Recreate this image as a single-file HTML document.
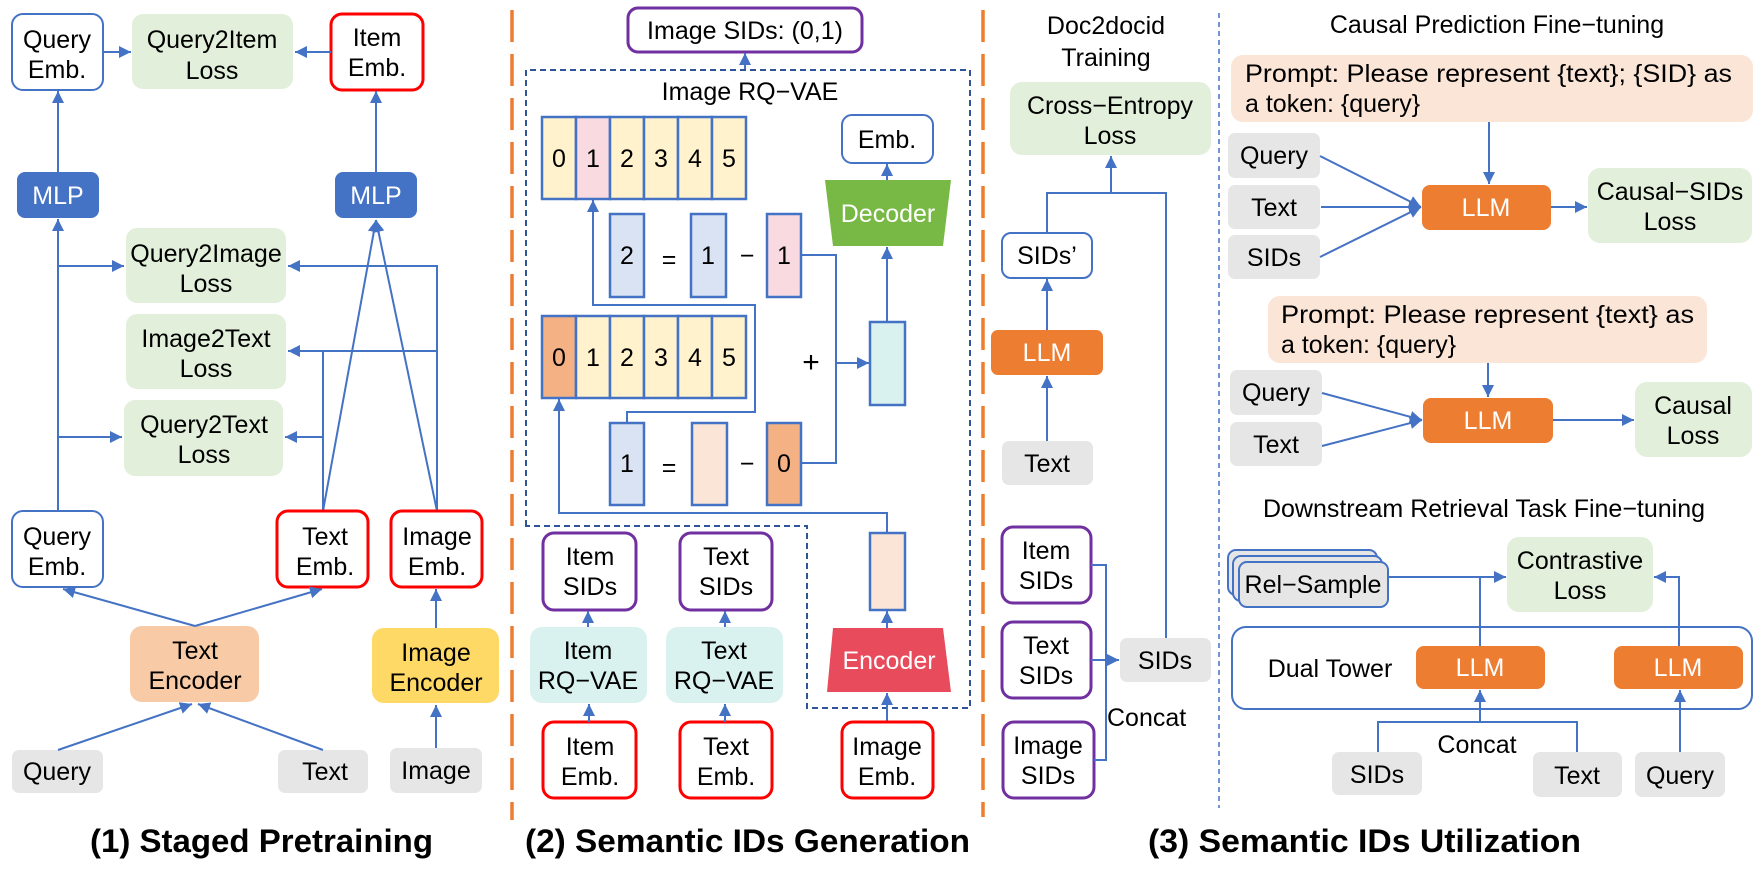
<!DOCTYPE html>
<html><head><meta charset="utf-8"><style>
html,body{margin:0;padding:0;background:#fff;}
svg{display:block;}
text{font-family:"Liberation Sans",sans-serif;fill:#000;}
.t{font-size:25px;text-anchor:middle;}
.w{fill:#fff;}
.b{font-weight:bold;font-size:32px;}
.l{stroke:#4472C4;stroke-width:2;fill:none;}
.la{stroke:#4472C4;stroke-width:2;fill:none;marker-end:url(#ah);}
.cell{stroke:#4472C4;stroke-width:2.5;}
</style></head><body>
<svg width="1762" height="878" viewBox="0 0 1762 878" xmlns="http://www.w3.org/2000/svg">
<defs>
<marker id="ah" markerUnits="userSpaceOnUse" markerWidth="14" markerHeight="14" refX="12" refY="6" orient="auto">
<path d="M0,0 L12,6 L0,12 z" fill="#4472C4"/>
</marker>
</defs>

<!-- ============ SECTION 1 ============ -->
<rect x="12" y="14" width="91" height="76" rx="11" fill="#fff" stroke="#4472C4" stroke-width="2"/>
<text class="t" x="57" y="48">Query</text><text class="t" x="57" y="78">Emb.</text>
<rect x="132" y="14" width="161" height="75" rx="11" fill="#e2efda"/>
<text class="t" x="212" y="48">Query2Item</text><text class="t" x="212" y="79">Loss</text>
<rect x="331" y="14" width="92" height="76" rx="11" fill="#fff" stroke="#ff0000" stroke-width="3"/>
<text class="t" x="377" y="46">Item</text><text class="t" x="377" y="76">Emb.</text>
<line class="la" x1="103" y1="52" x2="131" y2="52"/>
<line class="la" x1="331" y1="52" x2="295" y2="52"/>

<rect x="17" y="172" width="82" height="46" rx="8" fill="#4472C4"/>
<text class="t w" x="58" y="204">MLP</text>
<rect x="335" y="172" width="82" height="46" rx="8" fill="#4472C4"/>
<text class="t w" x="376" y="204">MLP</text>
<line class="la" x1="58" y1="172" x2="58" y2="91"/>
<line class="la" x1="376" y1="172" x2="376" y2="91"/>

<rect x="126" y="228" width="160" height="75" rx="11" fill="#e2efda"/>
<text class="t" x="206" y="262">Query2Image</text><text class="t" x="206" y="292">Loss</text>
<rect x="126" y="314" width="160" height="75" rx="11" fill="#e2efda"/>
<text class="t" x="206" y="347">Image2Text</text><text class="t" x="206" y="377">Loss</text>
<rect x="124" y="400" width="159" height="76" rx="11" fill="#e2efda"/>
<text class="t" x="204" y="433">Query2Text</text><text class="t" x="204" y="463">Loss</text>

<line class="la" x1="58" y1="511" x2="58" y2="219"/>
<line class="la" x1="58" y1="266" x2="124" y2="266"/>
<line class="la" x1="58" y1="437" x2="122" y2="437"/>
<polyline class="la" points="437,511 437,266 288,266"/>
<line class="la" x1="437" y1="351" x2="288" y2="351"/>
<line class="l" x1="323" y1="511" x2="323" y2="351"/>
<line class="la" x1="323" y1="437" x2="285" y2="437"/>
<line class="la" x1="323" y1="511" x2="376" y2="220"/>
<line class="la" x1="437" y1="511" x2="376" y2="220"/>

<rect x="12" y="511" width="91" height="76" rx="11" fill="#fff" stroke="#4472C4" stroke-width="2"/>
<text class="t" x="57" y="545">Query</text><text class="t" x="57" y="575">Emb.</text>
<rect x="277" y="511" width="91" height="76" rx="11" fill="#fff" stroke="#ff0000" stroke-width="3"/>
<text class="t" x="325" y="545">Text</text><text class="t" x="325" y="575">Emb.</text>
<rect x="391" y="511" width="91" height="76" rx="11" fill="#fff" stroke="#ff0000" stroke-width="3"/>
<text class="t" x="437" y="545">Image</text><text class="t" x="437" y="575">Emb.</text>

<rect x="130" y="626" width="129" height="76" rx="12" fill="#f8cba6"/>
<text class="t" x="195" y="659">Text</text><text class="t" x="195" y="689">Encoder</text>
<rect x="372" y="628" width="127" height="75" rx="12" fill="#ffd966"/>
<text class="t" x="436" y="661">Image</text><text class="t" x="436" y="691">Encoder</text>
<line class="la" x1="195" y1="626" x2="63" y2="589"/>
<line class="la" x1="195" y1="626" x2="322" y2="589"/>
<line class="la" x1="436" y1="628" x2="436" y2="589"/>

<rect x="12" y="750" width="91" height="43" rx="7" fill="#e6e6e6"/>
<text class="t" x="57" y="780">Query</text>
<rect x="278" y="750" width="90" height="43" rx="7" fill="#e6e6e6"/>
<text class="t" x="325" y="780">Text</text>
<rect x="390" y="748" width="92" height="45" rx="7" fill="#e6e6e6"/>
<text class="t" x="436" y="779">Image</text>
<line class="la" x1="58" y1="750" x2="192" y2="704"/>
<line class="la" x1="323" y1="750" x2="198" y2="704"/>
<line class="la" x1="436" y1="748" x2="436" y2="705"/>

<text class="b" x="90" y="852" textLength="343" lengthAdjust="spacingAndGlyphs">(1) Staged Pretraining</text>

<!-- divider 1 -->
<line x1="512" y1="10" x2="512" y2="820" stroke="#ed7d31" stroke-width="3.5" stroke-dasharray="32,12"/>

<!-- ============ SECTION 2 ============ -->
<rect x="628" y="8" width="234" height="44" rx="10" fill="#fff" stroke="#7030a0" stroke-width="3"/>
<text class="t" x="745" y="39">Image SIDs: (0,1)</text>
<line class="la" x1="745" y1="70" x2="745" y2="53"/>
<path d="M526,526 L526,70 L970,70 L970,708 L807,708 L807,526 Z" fill="none" stroke="#2f5597" stroke-width="2" stroke-dasharray="6,4"/>
<text class="t" x="750" y="100">Image RQ−VAE</text>

<!-- codebook row 1 -->
<g class="cell">
<rect x="542" y="117" width="34" height="82" fill="#fff2cc"/>
<rect x="576" y="117" width="34" height="82" fill="#f8dae0"/>
<rect x="610" y="117" width="34" height="82" fill="#fff2cc"/>
<rect x="644" y="117" width="34" height="82" fill="#fff2cc"/>
<rect x="678" y="117" width="34" height="82" fill="#fff2cc"/>
<rect x="712" y="117" width="34" height="82" fill="#fff2cc"/>
</g>
<g class="t"><text class="t" x="559" y="167">0</text><text class="t" x="593" y="167">1</text><text class="t" x="627" y="167">2</text><text class="t" x="661" y="167">3</text><text class="t" x="695" y="167">4</text><text class="t" x="729" y="167">5</text></g>

<!-- residual row 1 -->
<rect class="cell" x="610" y="214" width="34" height="83" fill="#dae3f3"/>
<text class="t" x="627" y="264">2</text>
<text class="t" x="669" y="268">=</text>
<rect class="cell" x="691" y="214" width="35" height="83" fill="#dae3f3"/>
<text class="t" x="708" y="264">1</text>
<text class="t" x="747" y="264">−</text>
<rect class="cell" x="767" y="214" width="34" height="83" fill="#f8dae0"/>
<text class="t" x="784" y="264">1</text>

<!-- codebook row 2 -->
<g class="cell">
<rect x="542" y="316" width="34" height="82" fill="#f4b183"/>
<rect x="576" y="316" width="34" height="82" fill="#fff2cc"/>
<rect x="610" y="316" width="34" height="82" fill="#fff2cc"/>
<rect x="644" y="316" width="34" height="82" fill="#fff2cc"/>
<rect x="678" y="316" width="34" height="82" fill="#fff2cc"/>
<rect x="712" y="316" width="34" height="82" fill="#fff2cc"/>
</g>
<text class="t" x="559" y="366">0</text><text class="t" x="593" y="366">1</text><text class="t" x="627" y="366">2</text><text class="t" x="661" y="366">3</text><text class="t" x="695" y="366">4</text><text class="t" x="729" y="366">5</text>
<text class="t" x="811" y="372" style="font-size:30px">+</text>

<!-- residual row 2 -->
<rect class="cell" x="610" y="423" width="34" height="82" fill="#dae3f3"/>
<text class="t" x="627" y="472">1</text>
<text class="t" x="669" y="476">=</text>
<rect class="cell" x="692" y="423" width="35" height="82" fill="#fbe5d6"/>
<text class="t" x="747" y="472">−</text>
<rect class="cell" x="767" y="423" width="34" height="82" fill="#f4b183"/>
<text class="t" x="784" y="472">0</text>

<!-- connectors sec 2 -->
<polyline class="la" points="627,423 627,412 755,412 755,305 593,305 593,200"/>
<polyline class="la" points="887,533 887,513 559,513 559,399"/>
<polyline class="l" points="801,255 836,255 836,463 801,463"/>
<line class="la" x1="836" y1="363" x2="869" y2="363"/>

<rect x="870" y="322" width="35" height="83" fill="#d9f2ef" stroke="#4472C4" stroke-width="2.5"/>
<line class="la" x1="887" y1="322" x2="887" y2="247"/>
<polygon points="825,180 951,180 943,246 833,246" fill="#77b944"/>
<text class="t w" x="888" y="222">Decoder</text>
<line class="la" x1="887" y1="180" x2="887" y2="164"/>
<rect x="842" y="115" width="91" height="48" rx="10" fill="#fff" stroke="#4472C4" stroke-width="2"/>
<text class="t" x="887" y="148">Emb.</text>

<rect x="870" y="533" width="35" height="77" fill="#fbe5d6" stroke="#4472C4" stroke-width="2.5"/>
<line class="la" x1="887" y1="628" x2="887" y2="611"/>
<polygon points="833,628 943,628 951,692 827,692" fill="#e84c5c"/>
<text class="t w" x="889" y="669">Encoder</text>
<line class="la" x1="887" y1="722" x2="887" y2="693"/>
<rect x="842" y="722" width="91" height="76" rx="11" fill="#fff" stroke="#ff0000" stroke-width="3"/>
<text class="t" x="887" y="755">Image</text><text class="t" x="887" y="785">Emb.</text>

<rect x="543" y="533" width="93" height="77" rx="11" fill="#fff" stroke="#7030a0" stroke-width="3"/>
<text class="t" x="590" y="565">Item</text><text class="t" x="590" y="595">SIDs</text>
<rect x="680" y="533" width="92" height="77" rx="11" fill="#fff" stroke="#7030a0" stroke-width="3"/>
<text class="t" x="726" y="565">Text</text><text class="t" x="726" y="595">SIDs</text>
<rect x="530" y="627" width="117" height="76" rx="12" fill="#d9f2ef"/>
<text class="t" x="588" y="659">Item</text><text class="t" x="588" y="689">RQ−VAE</text>
<rect x="666" y="627" width="117" height="76" rx="12" fill="#d9f2ef"/>
<text class="t" x="724" y="659">Text</text><text class="t" x="724" y="689">RQ−VAE</text>
<rect x="543" y="722" width="93" height="76" rx="11" fill="#fff" stroke="#ff0000" stroke-width="3"/>
<text class="t" x="590" y="755">Item</text><text class="t" x="590" y="785">Emb.</text>
<rect x="680" y="722" width="92" height="76" rx="11" fill="#fff" stroke="#ff0000" stroke-width="3"/>
<text class="t" x="726" y="755">Text</text><text class="t" x="726" y="785">Emb.</text>
<line class="la" x1="589" y1="722" x2="589" y2="704"/>
<line class="la" x1="588" y1="627" x2="588" y2="611"/>
<line class="la" x1="725" y1="722" x2="725" y2="704"/>
<line class="la" x1="725" y1="627" x2="725" y2="611"/>

<text class="b" x="525" y="852" textLength="445" lengthAdjust="spacingAndGlyphs">(2) Semantic IDs Generation</text>

<!-- divider 2 -->
<line x1="983" y1="10" x2="983" y2="817" stroke="#ed7d31" stroke-width="3.5" stroke-dasharray="32,12"/>
<line x1="1219" y1="13" x2="1219" y2="808" stroke="#4472C4" stroke-width="1.5" stroke-dasharray="5,4"/>

<!-- ============ SECTION 3 ============ -->
<text class="t" x="1106" y="34">Doc2docid</text>
<text class="t" x="1106" y="66">Training</text>
<rect x="1010" y="82" width="201" height="73" rx="12" fill="#e2efda"/>
<text class="t" x="1110" y="114">Cross−Entropy</text><text class="t" x="1110" y="144">Loss</text>
<polyline class="l" points="1047,233 1047,193 1166,193 1166,638"/>
<line class="la" x1="1111" y1="193" x2="1111" y2="156"/>
<rect x="1002" y="233" width="90" height="45" rx="9" fill="#fff" stroke="#4472C4" stroke-width="2"/>
<text class="t" x="1047" y="264">SIDs’</text>
<line class="la" x1="1047" y1="330" x2="1047" y2="279"/>
<rect x="991" y="330" width="112" height="45" rx="7" fill="#ed7d31"/>
<text class="t w" x="1047" y="361">LLM</text>
<line class="la" x1="1047" y1="441" x2="1047" y2="376"/>
<rect x="1002" y="441" width="91" height="44" rx="7" fill="#e6e6e6"/>
<text class="t" x="1047" y="472">Text</text>

<rect x="1002" y="527" width="89" height="76" rx="11" fill="#fff" stroke="#7030a0" stroke-width="3"/>
<text class="t" x="1046" y="559">Item</text><text class="t" x="1046" y="589">SIDs</text>
<rect x="1002" y="622" width="89" height="76" rx="11" fill="#fff" stroke="#7030a0" stroke-width="3"/>
<text class="t" x="1046" y="654">Text</text><text class="t" x="1046" y="684">SIDs</text>
<rect x="1003" y="722" width="91" height="76" rx="11" fill="#fff" stroke="#7030a0" stroke-width="3"/>
<text class="t" x="1048" y="754">Image</text><text class="t" x="1048" y="784">SIDs</text>
<polyline class="l" points="1091,565 1106,565 1106,760 1094,760"/>
<line class="l" x1="1091" y1="660" x2="1106" y2="660"/>
<line class="la" x1="1106" y1="660" x2="1119" y2="660"/>
<rect x="1120" y="638" width="91" height="44" rx="7" fill="#e6e6e6"/>
<text class="t" x="1165" y="669">SIDs</text>
<text class="t" x="1151" y="726" style="text-anchor:start" transform="translate(-44,0)">Concat</text>

<!-- causal prediction -->
<text class="t" x="1497" y="33">Causal Prediction Fine−tuning</text>
<rect x="1231" y="55" width="522" height="67" rx="12" fill="#fbe5d6"/>
<text x="1245" y="82" style="font-size:25px" textLength="487" lengthAdjust="spacingAndGlyphs">Prompt: Please represent {text}; {SID} as</text>
<text x="1245" y="112" style="font-size:25px">a token: {query}</text>
<line class="la" x1="1489" y1="122" x2="1489" y2="184"/>
<rect x="1228" y="133" width="92" height="45" rx="7" fill="#e6e6e6"/>
<text class="t" x="1274" y="164">Query</text>
<rect x="1228" y="185" width="92" height="44" rx="7" fill="#e6e6e6"/>
<text class="t" x="1274" y="216">Text</text>
<rect x="1228" y="235" width="92" height="44" rx="7" fill="#e6e6e6"/>
<text class="t" x="1274" y="266">SIDs</text>
<line class="la" x1="1320" y1="156" x2="1421" y2="207"/>
<line class="la" x1="1321" y1="207" x2="1421" y2="207"/>
<line class="la" x1="1320" y1="257" x2="1421" y2="207"/>
<rect x="1422" y="185" width="129" height="45" rx="8" fill="#ed7d31"/>
<text class="t w" x="1486" y="216">LLM</text>
<line class="la" x1="1551" y1="207" x2="1587" y2="207"/>
<rect x="1588" y="168" width="164" height="75" rx="12" fill="#e2efda"/>
<text class="t" x="1670" y="200">Causal−SIDs</text><text class="t" x="1670" y="230">Loss</text>

<rect x="1268" y="296" width="439" height="67" rx="12" fill="#fbe5d6"/>
<text x="1281" y="323" style="font-size:25px" textLength="413" lengthAdjust="spacingAndGlyphs">Prompt: Please represent {text} as</text>
<text x="1281" y="353" style="font-size:25px">a token: {query}</text>
<line class="la" x1="1488" y1="363" x2="1488" y2="397"/>
<rect x="1230" y="370" width="92" height="45" rx="7" fill="#e6e6e6"/>
<text class="t" x="1276" y="401">Query</text>
<rect x="1230" y="422" width="92" height="44" rx="7" fill="#e6e6e6"/>
<text class="t" x="1276" y="453">Text</text>
<line class="la" x1="1322" y1="393" x2="1422" y2="420"/>
<line class="la" x1="1322" y1="446" x2="1422" y2="420"/>
<rect x="1423" y="398" width="130" height="45" rx="8" fill="#ed7d31"/>
<text class="t w" x="1488" y="429">LLM</text>
<line class="la" x1="1553" y1="420" x2="1634" y2="420"/>
<rect x="1635" y="382" width="117" height="75" rx="12" fill="#e2efda"/>
<text class="t" x="1693" y="414">Causal</text><text class="t" x="1693" y="444">Loss</text>

<!-- downstream -->
<text class="t" x="1484" y="517">Downstream Retrieval Task Fine−tuning</text>
<rect x="1507" y="537" width="146" height="75" rx="12" fill="#e2efda"/>
<text class="t" x="1580" y="569">Contrastive</text><text class="t" x="1580" y="599">Loss</text>
<rect x="1228" y="550" width="149" height="45" rx="8" fill="#e6e6e6" stroke="#4472C4" stroke-width="2"/>
<rect x="1233" y="556" width="149" height="45" rx="8" fill="#e6e6e6" stroke="#4472C4" stroke-width="2"/>
<rect x="1239" y="562" width="149" height="45" rx="8" fill="#e6e6e6" stroke="#4472C4" stroke-width="2"/>
<text class="t" x="1313" y="593">Rel−Sample</text>
<line class="la" x1="1388" y1="577" x2="1506" y2="577"/>
<line class="l" x1="1480" y1="646" x2="1480" y2="577"/>
<polyline class="la" points="1679,646 1679,577 1654,577"/>
<rect x="1232" y="627" width="520" height="82" rx="14" fill="none" stroke="#4472C4" stroke-width="2"/>
<text class="t" x="1330" y="677">Dual Tower</text>
<rect x="1416" y="646" width="129" height="43" rx="8" fill="#ed7d31"/>
<text class="t w" x="1480" y="676">LLM</text>
<rect x="1614" y="646" width="129" height="43" rx="8" fill="#ed7d31"/>
<text class="t w" x="1678" y="676">LLM</text>
<polyline class="l" points="1378,752 1378,722 1577,722 1577,752"/>
<line class="la" x1="1480" y1="722" x2="1480" y2="690"/>
<line class="la" x1="1680" y1="752" x2="1680" y2="690"/>
<text class="t" x="1477" y="753">Concat</text>
<rect x="1332" y="752" width="90" height="43" rx="7" fill="#e6e6e6"/>
<text class="t" x="1377" y="783">SIDs</text>
<rect x="1533" y="752" width="89" height="45" rx="7" fill="#e6e6e6"/>
<text class="t" x="1577" y="784">Text</text>
<rect x="1635" y="752" width="90" height="45" rx="7" fill="#e6e6e6"/>
<text class="t" x="1680" y="784">Query</text>

<text class="b" x="1148" y="852" textLength="433" lengthAdjust="spacingAndGlyphs">(3) Semantic IDs Utilization</text>
</svg>
</body></html>
